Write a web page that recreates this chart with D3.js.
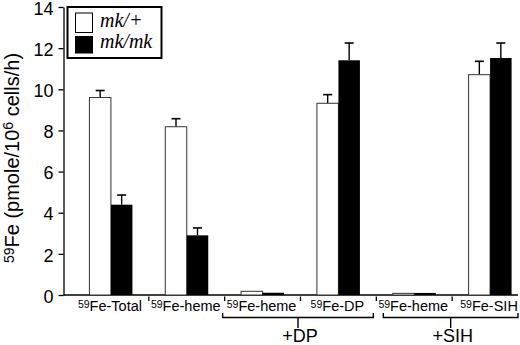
<!DOCTYPE html>
<html>
<head>
<meta charset="utf-8">
<script src="https://cdn.jsdelivr.net/npm/d3@7/dist/d3.min.js"></script>
<style>
  html, body { margin: 0; padding: 0; background: #fff; }
  svg { display: block; font-family: "Liberation Sans", Arial, Helvetica, sans-serif; }
</style>
</head>
<body>
<div id="chart"></div>
<script>
/* 59Fe uptake, mk/+ vs mk/mk, with DP / SIH treatment. */

var catNames = ["-Total", "-heme", "-heme", "-DP", "-heme", "-SIH"];
var hetMean = [9.6, 8.18, 0.18, 9.32, 0.08, 10.71];
var hetErr = [0.34, 0.39, 0, 0.42, 0, 0.65];
var homMean = [4.39, 2.9, 0.11, 11.41, 0.1, 11.52];
var homErr = [0.47, 0.36, 0, 0.84, 0, 0.73];
var yTicks = [0, 2, 4, 6, 8, 10, 12, 14];
var groupLabels = ["+DP", "+SIH"];
var groupFirst = [2, 4];
var groupLast = [3, 5];
var seriesNames = ["mk/+", "mk/mk"];

var width = 520, height = 345;
var axisX = 63.5, axisY = 295, axisRight = 518;

var svg = d3.select("#chart").append("svg")
  .attr("width", width).attr("height", height)
  .attr("viewBox", "0 0 " + width + " " + height);

var idx = d3.range(catNames.length);
var x = d3.scaleBand().domain(idx).range([73, 528]).padding(0);
var barW = 21.5;
var y = d3.scaleLinear().domain([0, 14]).range([axisY, 7]);

/* y axis */
var yAxis = svg.append("g").attr("transform", "translate(" + axisX + ",0)")
  .call(d3.axisLeft(y).tickValues(yTicks).tickSize(5).tickPadding(5).tickSizeOuter(0));
yAxis.select(".domain").attr("stroke", "#000").attr("stroke-width", 1.3);
yAxis.selectAll(".tick line").attr("stroke", "#000").attr("stroke-width", 1.3);
yAxis.selectAll(".tick text")
  .attr("font-size", 18).attr("fill", "#000").attr("dy", "0.4em")
  .attr("font-family", "Liberation Sans, Arial, sans-serif");

/* x axis baseline + separators */
svg.append("line")
  .attr("x1", axisX).attr("x2", axisRight)
  .attr("y1", axisY).attr("y2", axisY)
  .attr("stroke", "#000").attr("stroke-width", 1.3);

idx.slice(1).forEach(function (i) {
  svg.append("line")
    .attr("x1", x(i)).attr("x2", x(i))
    .attr("y1", axisY + 1.5).attr("y2", axisY + 6)
    .attr("stroke", "#000").attr("stroke-width", 1.3);
});

/* bars */
function cx(i) { return x(i) + x.bandwidth() / 2; }

idx.forEach(function (i) {
  var c = cx(i);
  var series = [
    { mean: hetMean[i], err: hetErr[i], x0: c - barW, fill: "#fff" },
    { mean: homMean[i], err: homErr[i], x0: c, fill: "#000" }
  ];
  series.forEach(function (s) {
    var mid = s.x0 + barW / 2;
    if (s.err > 0) {
      svg.append("line")
        .attr("x1", mid).attr("x2", mid)
        .attr("y1", y(s.mean)).attr("y2", y(s.mean + s.err))
        .attr("stroke", "#000").attr("stroke-width", 1.4);
      svg.append("line")
        .attr("x1", mid - 4.5).attr("x2", mid + 4.5)
        .attr("y1", y(s.mean + s.err)).attr("y2", y(s.mean + s.err))
        .attr("stroke", "#000").attr("stroke-width", 1.6);
    }
    svg.append("rect")
      .attr("x", s.x0).attr("y", y(s.mean))
      .attr("width", barW).attr("height", axisY - y(s.mean))
      .attr("fill", s.fill)
      .attr("stroke", s.fill === "#000" ? "none" : "#333")
      .attr("stroke-width", 1);
  });
});

/* category labels with superscript 59 */
idx.forEach(function (i) {
  var t = svg.append("text")
    .attr("x", cx(i) - 1).attr("y", 311)
    .attr("text-anchor", "middle")
    .attr("font-size", 14.5).attr("fill", "#000");
  t.append("tspan").attr("font-size", 10.5).attr("dy", -3).text("59");
  t.append("tspan").attr("dy", 3).text("Fe" + catNames[i]);
});

/* treatment brackets */
groupLabels.forEach(function (lab, k) {
  var x0 = x(groupFirst[k]) - 2;
  var x1 = Math.min(x(groupLast[k]) + x.bandwidth() - 3, axisRight);
  if (k > 0) x0 = x(groupFirst[k]) + 7;
  var mid = (x0 + x1) / 2;
  svg.append("path")
    .attr("d", "M" + x0 + ",313 V317.5 H" + x1 + " V313 M" + mid + ",317.5 V328")
    .attr("fill", "none").attr("stroke", "#000").attr("stroke-width", 1.4);
  svg.append("text")
    .attr("x", mid + 2).attr("y", 342)
    .attr("text-anchor", "middle")
    .attr("font-size", 18).attr("fill", "#000")
    .text(lab);
});

/* y label */
var yl = svg.append("text")
  .attr("transform", "translate(18.5," + 158 + ") rotate(-90)")
  .attr("text-anchor", "middle")
  .attr("font-size", 20).attr("fill", "#000");
yl.append("tspan").attr("font-size", 14).attr("dy", -5).text("59");
yl.append("tspan").attr("dy", 5).text("Fe (pmole/10");
yl.append("tspan").attr("font-size", 14).attr("dy", -6).text("6");
yl.append("tspan").attr("dy", 6).text(" cells/h)");

/* legend */
var lg = svg.append("g");
lg.append("rect")
  .attr("x", 67.5).attr("y", 7).attr("width", 94).attr("height", 51)
  .attr("fill", "#fff").attr("stroke", "#000").attr("stroke-width", 2);
var swFill = ["#fff", "#000"];
seriesNames.forEach(function (name, k) {
  lg.append("rect")
    .attr("x", 75.5).attr("y", 13 + k * 23.5)
    .attr("width", 17).attr("height", k === 0 ? 19.5 : 16.5)
    .attr("fill", swFill[k]).attr("stroke", "#000").attr("stroke-width", 1);
  lg.append("text")
    .attr("x", 100).attr("y", 27 + k * 20.5)
    .attr("font-family", "Liberation Serif, Times New Roman, serif")
    .attr("font-style", "italic")
    .attr("font-size", 20).attr("fill", "#000")
    .text(name);
});
</script>
</body>
</html>
